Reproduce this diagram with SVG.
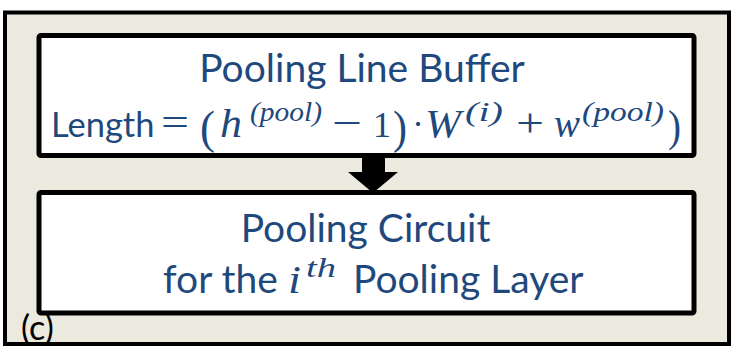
<svg xmlns="http://www.w3.org/2000/svg" width="733" height="347" viewBox="0 0 733 347">
<style>
.t{font-family:Lato,"Open Sans",sans-serif;fill:#1F497D}
.m{font-family:"Liberation Serif","DejaVu Serif",serif;fill:#1F497D}
.i{font-style:italic}
.box{fill:#FFFFFF;stroke:#000;stroke-width:5}
</style>
<rect x="5" y="12.5" width="724" height="331.5" fill="#ECE9DF"/>
<g id="line-buffer">
<rect class="box" x="39" y="35.5" width="655" height="120" rx="2"/>
<text class="t" x="362" y="82" font-size="39" text-anchor="middle">Pooling Line Buffer</text>
<text class="t" x="51" y="137" font-size="34.5">Length</text>
<text class="m" x="161" y="136" font-size="40" textLength="28" lengthAdjust="spacingAndGlyphs">=</text>
<text class="m" x="200" y="143" font-size="46" textLength="15" lengthAdjust="spacingAndGlyphs">(</text>
<text class="m i" x="220" y="137" font-size="40" textLength="22" lengthAdjust="spacingAndGlyphs">h</text>
<text class="m i" x="250" y="121" font-size="27" textLength="72" lengthAdjust="spacingAndGlyphs">(pool)</text>
<text class="m" x="332" y="136" font-size="40" textLength="30" lengthAdjust="spacingAndGlyphs">−</text>
<text class="m" x="373" y="137" font-size="36">1</text>
<text class="m" x="393" y="143" font-size="46" textLength="14" lengthAdjust="spacingAndGlyphs">)</text>
<text class="m" x="412" y="136" font-size="36">·</text>
<text class="m i" x="425" y="137" font-size="40" textLength="36" lengthAdjust="spacingAndGlyphs">W</text>
<text class="m i" x="465" y="121" font-size="27" textLength="38" lengthAdjust="spacingAndGlyphs">(i)</text>
<text class="m" x="516" y="136" font-size="40" textLength="28" lengthAdjust="spacingAndGlyphs">+</text>
<text class="m i" x="554" y="137" font-size="40" textLength="26" lengthAdjust="spacingAndGlyphs">w</text>
<text class="m i" x="582" y="121" font-size="27" textLength="82" lengthAdjust="spacingAndGlyphs">(pool)</text>
<text class="m" x="668" y="141" font-size="44" textLength="13" lengthAdjust="spacingAndGlyphs">)</text>
</g>
<g id="connectors">
<path d="M362,156 L385,156 L385,172 L398,172 L373,193 L348,172 L362,172 Z" fill="#000"/>
</g>
<g id="pooling-circuit">
<rect class="box" x="39" y="192.5" width="655" height="120.5" rx="2"/>
<text class="t" x="365.5" y="242" font-size="39" text-anchor="middle">Pooling Circuit</text>
<text class="t" x="163" y="293" font-size="39">for the</text>
<text class="m i" x="288" y="293" font-size="40" textLength="13" lengthAdjust="spacingAndGlyphs">i</text>
<text class="m i" x="306" y="277" font-size="27" textLength="30" lengthAdjust="spacingAndGlyphs">th</text>
<text class="t" x="353" y="293" font-size="39">Pooling Layer</text>
</g>
<text x="21" y="340" font-family="Lato,'Open Sans',sans-serif" font-size="34" fill="#000">(c)</text>
<rect x="5" y="12.5" width="724" height="331.5" fill="none" stroke="#000" stroke-width="4"/>
</svg>
